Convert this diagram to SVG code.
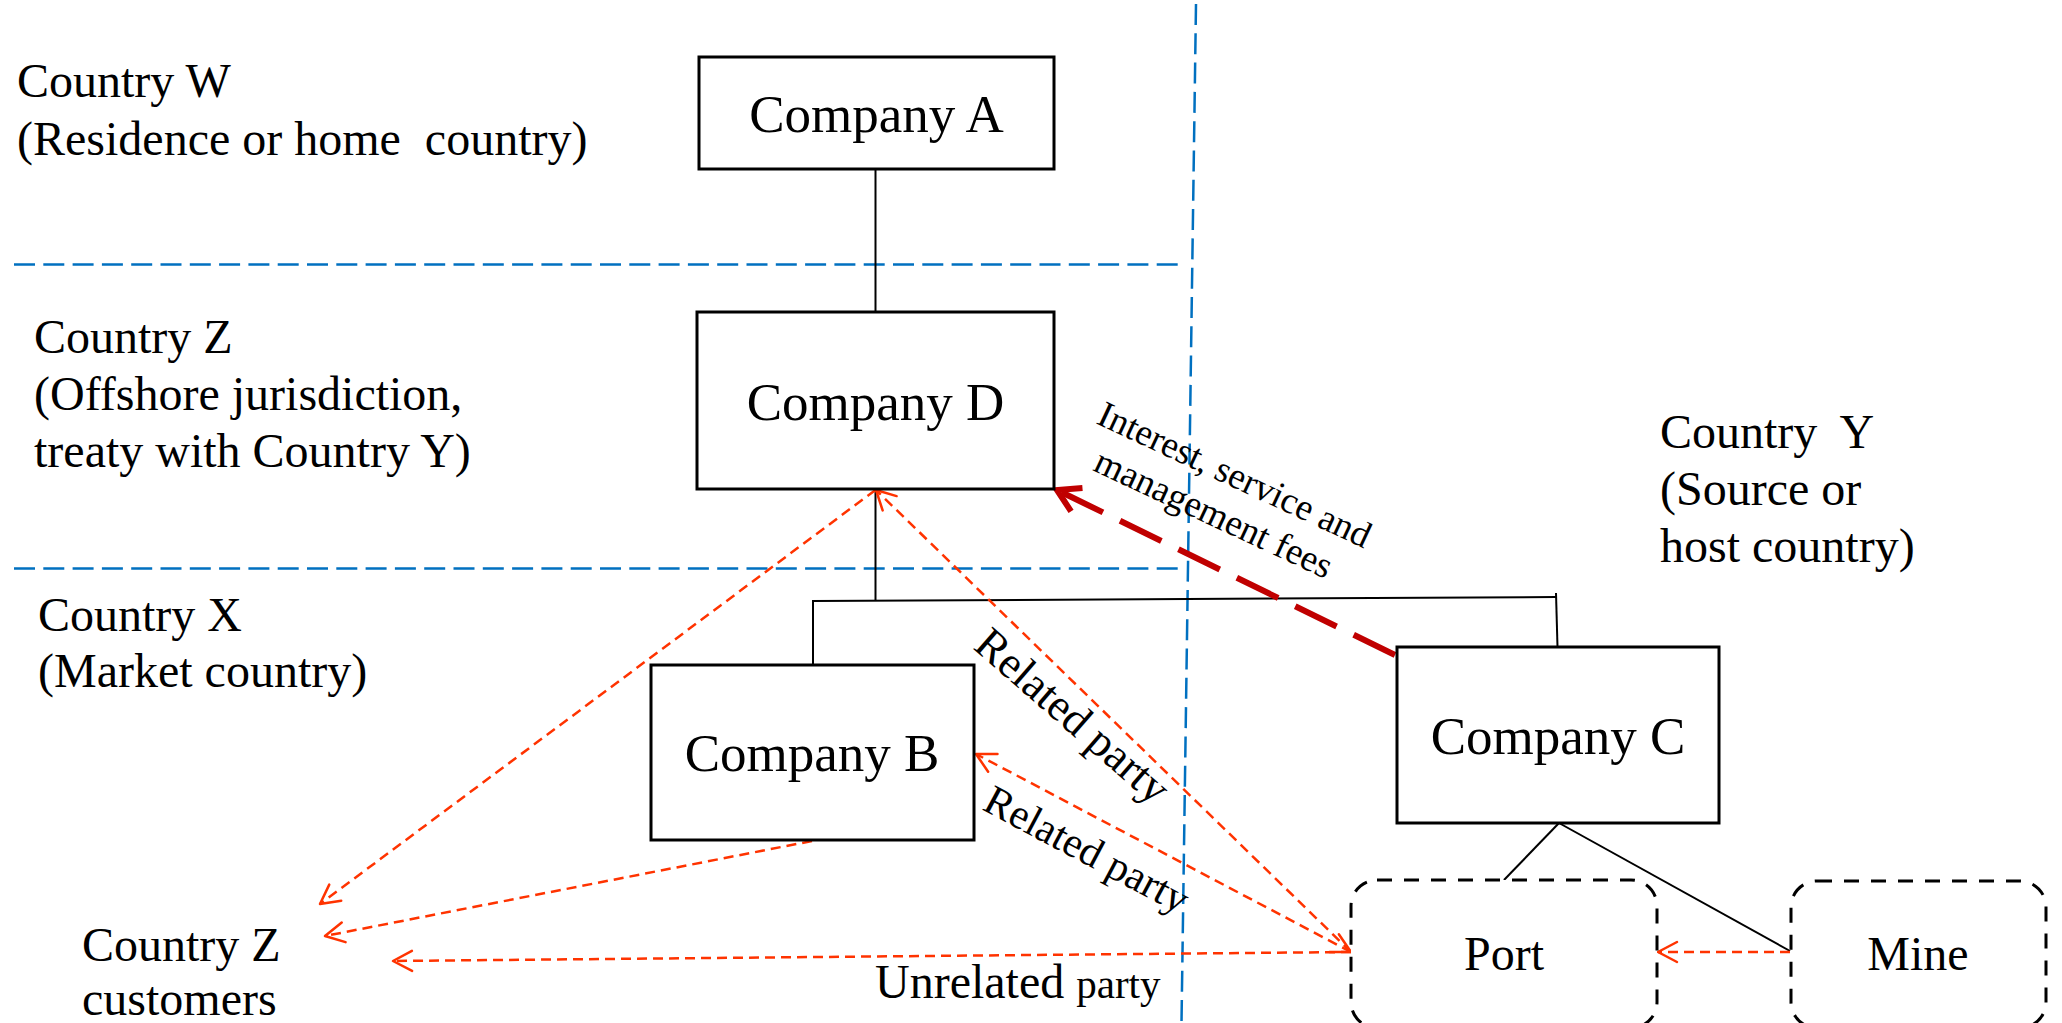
<svg xmlns="http://www.w3.org/2000/svg" width="2062" height="1023" viewBox="0 0 2062 1023">
  <style>
    text { font-family: "Liberation Serif", "Times New Roman", serif; fill: #000; }
    .region { font-size: 48px; white-space: pre; }
    .company { font-size: 53px; text-anchor: middle; }
    .site-label { font-size: 48px; text-anchor: middle; }
    .box { fill: #fff; stroke: #000; stroke-width: 3; }
    .site { fill: #fff; stroke: #000; stroke-width: 3; stroke-dasharray: 15 12; }
    .border { fill: none; stroke: #0070C0; stroke-width: 2.5; stroke-dasharray: 21 8.3; }
    .tree { fill: none; stroke: #000; stroke-width: 2; }
    .flow { fill: none; stroke: #FF3300; stroke-width: 2.5; stroke-dasharray: 10 6; }
    .fees { fill: none; stroke: #C00000; stroke-width: 6; stroke-dasharray: 46 19; }
  </style>
  <defs>
    <marker id="openArrow" viewBox="-24 -14 28 28" markerWidth="28" markerHeight="28" refX="0" refY="0" orient="auto-start-reverse" markerUnits="userSpaceOnUse" overflow="visible">
      <path d="M-19,-10 L0,0 L-19,10" fill="none" stroke="#FF3300" stroke-width="2.5" stroke-linecap="round" stroke-linejoin="round"/>
    </marker>
    <marker id="feeArrow" viewBox="-30 -18 36 36" markerWidth="36" markerHeight="36" refX="0" refY="0" orient="auto" markerUnits="userSpaceOnUse" overflow="visible">
      <path d="M-22,-13 L0,0 L-22,13" fill="none" stroke="#C00000" stroke-width="6" stroke-linecap="butt" stroke-linejoin="miter"/>
    </marker>
  </defs>

  <!-- country borders -->
  <g id="borders">
    <line class="border" x1="14" y1="264.5" x2="1180" y2="264.5"/>
    <line class="border" x1="14" y1="568.5" x2="1186" y2="568.5"/>
    <line class="border" x1="1196" y1="4" x2="1181.5" y2="1023"/>
  </g>

  <!-- region captions -->
  <g id="regions">
    <text class="region" xml:space="preserve" x="17" y="97">Country W</text>
    <text class="region" xml:space="preserve" x="17" y="155">(Residence or home  country)</text>
    <text class="region" x="34" y="353">Country Z</text>
    <text class="region" x="34" y="410">(Offshore jurisdiction,</text>
    <text class="region" x="34" y="467">treaty with Country Y)</text>
    <text class="region" x="38" y="631">Country X</text>
    <text class="region" x="38" y="687">(Market country)</text>
    <text class="region" xml:space="preserve" x="1660" y="448">Country  Y</text>
    <text class="region" x="1660" y="505">(Source or</text>
    <text class="region" x="1660" y="562">host country)</text>
  </g>

  <!-- ownership tree and payment flows -->
  <g id="connectors">
    <line class="tree" x1="875.5" y1="169" x2="875.5" y2="312"/>
    <line class="tree" x1="875.5" y1="489" x2="875.5" y2="600"/>
    <line class="tree" x1="813" y1="601" x2="1556" y2="597"/>
    <line class="tree" x1="813" y1="600" x2="813" y2="665"/>
    <line class="tree" x1="1556" y1="593" x2="1557.5" y2="647"/>
    <line class="tree" x1="1559" y1="823" x2="1504" y2="880"/>
    <line class="tree" x1="1559" y1="823" x2="1790" y2="951"/>

    <line class="fees" x1="1395" y1="655" x2="1057" y2="490" marker-end="url(#feeArrow)"/>

    <line class="flow" x1="875.5" y1="490" x2="320" y2="904" marker-end="url(#openArrow)"/>
    <line class="flow" x1="812" y1="841" x2="325" y2="936" marker-end="url(#openArrow)"/>
    <line class="flow" x1="1351" y1="952" x2="393" y2="961" marker-end="url(#openArrow)"/>
    <line class="flow" x1="1351" y1="952" x2="876" y2="490" marker-end="url(#openArrow)"/>
    <line class="flow" x1="1351" y1="952" x2="976" y2="754" marker-start="url(#openArrow)" marker-end="url(#openArrow)"/>
    <line class="flow" x1="1790" y1="952" x2="1658" y2="952" marker-end="url(#openArrow)"/>
  </g>

  <!-- flow labels -->
  <g id="flow-labels">
    <text font-size="37" transform="translate(1095,423) rotate(25)">Interest, service and<tspan x="17" dy="44">management fees</tspan></text>
    <text font-size="45" transform="translate(972,648) rotate(41)">Related party</text>
    <text font-size="42" transform="translate(981,809) rotate(28)">Related party</text>
    <text x="875" y="998"><tspan font-size="48">Unrelated </tspan><tspan font-size="41">party</tspan></text>
  </g>

  <!-- companies -->
  <g id="companyA">
    <rect class="box" x="699" y="57" width="355" height="112"/>
    <text class="company" x="876.5" y="132">Company A</text>
  </g>
  <g id="companyD">
    <rect class="box" x="697" y="312" width="357" height="177"/>
    <text class="company" x="875.5" y="420">Company D</text>
  </g>
  <g id="companyB">
    <rect class="box" x="651" y="665" width="323" height="175"/>
    <text class="company" x="812" y="771">Company B</text>
  </g>
  <g id="companyC">
    <rect class="box" x="1397" y="647" width="322" height="176"/>
    <text class="company" x="1558" y="754">Company C</text>
  </g>

  <!-- operating sites -->
  <g id="port">
    <rect class="site" x="1351" y="880" width="306" height="148" rx="26" ry="26"/>
    <text class="site-label" x="1504" y="970">Port</text>
  </g>
  <g id="mine">
    <rect class="site" x="1791" y="881" width="255" height="147" rx="26" ry="26"/>
    <text class="site-label" x="1918" y="970">Mine</text>
  </g>

  <!-- end customers -->
  <g id="customers">
    <text class="region" x="82" y="961">Country Z</text>
    <text class="region" x="82" y="1015">customers</text>
  </g>
</svg>
